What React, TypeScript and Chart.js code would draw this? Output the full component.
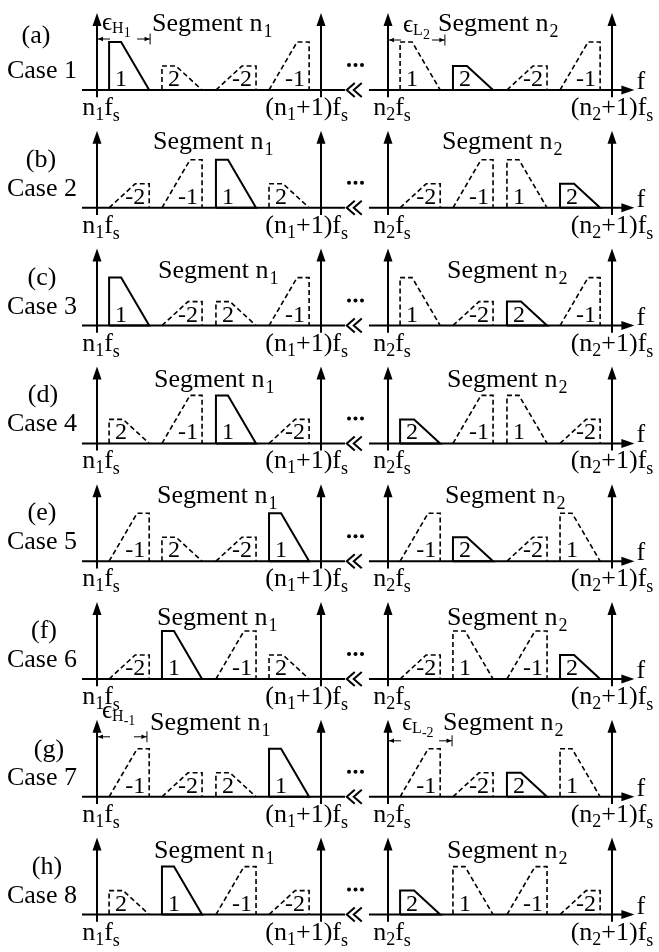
import React, { useEffect, useRef } from "react";
import { Chart, registerables } from "chart.js";

Chart.register(...registerables);

// ---------------- data ----------------
const CASE_LETTERS = ["(a)", "(b)", "(c)", "(d)", "(e)", "(f)", "(g)", "(h)"];
const CASE_NAMES = ["Case 1", "Case 2", "Case 3", "Case 4", "Case 5", "Case 6", "Case 7", "Case 8"];
const SEGMENT_SUBS = ["1", "2"];
// Order of the band replicas inside each segment (same order in both segments)
const BAND_ORDER = [
  ["1", "2", "-2", "-1"],
  ["-2", "-1", "1", "2"],
  ["1", "-2", "2", "-1"],
  ["2", "-1", "1", "-2"],
  ["-1", "2", "-2", "1"],
  ["-2", "1", "-1", "2"],
  ["-1", "-2", "2", "1"],
  ["2", "1", "-1", "-2"],
];
// band that is the wanted (solid) signal in segment n1 and n2
const SIGNAL_BAND = ["1", "2"];
// band slot start, as fraction of fs inside segment
const SLOT_START = [0.054, 0.29, 0.531, 0.768];
const BAND_WIDTH = 0.179;
const AMP_BY_INDEX: Record<string, number> = { "1": 1, "2": 0.5 };
// epsilon annotations
const EPS_ROWS = [0, 0, 6, 6];
const EPS_PANELS = [0, 1, 0, 1];
const EPS_NAMES = ["H", "L", "H", "L"];
const EPS_SUBS = ["1", "2", "-1", "-2"];
const EPS_EDGE = [0.237, 0.254, 0.223, 0.286];

// ---------------- layout (not data) ----------------
const W = 659;
const H = 952;
const FONT = '"Liberation Serif", "Times New Roman", "DejaVu Serif", serif';
const PANEL_X0 = [97, 388];
const PANEL_W = 224;
const ROW_Y0 = 90;
const ROW_DY = 117.8;
const UNIT_H = 48;
const ARROW_UP = 77;
const LETTER_X = [36, 41, 42, 43, 42, 44, 49, 47];
const LETTER_UP = [47, 41, 41, 41, 41, 41, 40, 41];
const CASE_UP = 12;
const AXIS_LABEL_DOWN = 25;
const SEG_X = [
  [152, 153, 158, 154, 157, 157, 150, 154],
  [438, 442, 447, 447, 445, 447, 443, 447],
];
const SEG_UP = [59, 59, 48, 56, 58, 54, 67, 57];
const EPS_TEXT_DX = [5, 15, 5, 14];
const EPS_TEXT_UP = [60, 58, 79, 67];
const EPS_ARROW_UP = [51, 50, 60, 56];

type Run = { t: string; size: number; dy?: number; dx?: number };

function drawRuns(ctx: CanvasRenderingContext2D, runs: Run[], x: number, y: number, align: "left" | "center" | "right") {
  const widths = runs.map((r) => {
    ctx.font = `${r.size}px ${FONT}`;
    return ctx.measureText(r.t).width + (r.dx || 0);
  });
  const total = widths.reduce((a, b) => a + b, 0);
  let cx = align === "left" ? x : align === "center" ? x - total / 2 : x - total;
  ctx.textAlign = "left";
  ctx.textBaseline = "alphabetic";
  runs.forEach((r, i) => {
    ctx.font = `${r.size}px ${FONT}`;
    ctx.fillText(r.t, cx + (r.dx || 0), y + (r.dy || 0));
    cx += widths[i];
  });
}

export default function App() {
  const ref = useRef<HTMLCanvasElement>(null);

  useEffect(() => {
    const canvas = ref.current;
    if (!canvas) return;
    const px = (p: number, f: number) => PANEL_X0[p] + f * PANEL_W;
    const py = (r: number, a: number) => ROW_Y0 + r * ROW_DY - a * UNIT_H;
    const datasets: any[] = [];
    const line = (pts: { x: number; y: number }[], width: number, dash: number[] = []) =>
      datasets.push({
        data: pts,
        showLine: true,
        borderColor: "#000",
        backgroundColor: "#000",
        borderWidth: width,
        borderDash: dash,
        pointRadius: 0,
        pointHoverRadius: 0,
        fill: false,
        tension: 0,
        borderJoinStyle: "miter",
        borderCapStyle: "butt",
        clip: false,
      });

    const up = ARROW_UP / UNIT_H;
    for (let r = 0; r < BAND_ORDER.length; r++) {
      // frequency axes
      line([{ x: px(0, -0.067), y: py(r, 0) }, { x: px(0, 1.107), y: py(r, 0) }], 2);
      line([{ x: px(1, -0.085), y: py(r, 0) }, { x: px(1, 1.045), y: py(r, 0) }], 2);
      for (let p = 0; p < 2; p++) {
        for (const edge of [0, 1]) {
          line([{ x: px(p, edge), y: py(r, -0.15) }, { x: px(p, edge), y: py(r, up - 0.15) }], 2);
        }
        BAND_ORDER[r].forEach((lab, i) => {
          const neg = lab.startsWith("-");
          const idx = lab.replace("-", "");
          const A = AMP_BY_INDEX[idx];
          const tf = A >= 1 ? 0.3 : 0.35;
          const s = SLOT_START[i];
          const w = BAND_WIDTH;
          const solid = lab === SIGNAL_BAND[p];
          let pts: number[][];
          if (!neg) pts = [[s, 0], [s, A], [s + tf * w, A], [s + w, 0]];
          else pts = [[s, 0], [s + (1 - tf) * w, A], [s + w, A], [s + w, 0]];
          if (solid) pts.push([s, 0]);
          line(pts.map(([f, a]) => ({ x: px(p, f), y: py(r, a) })), solid ? 2 : 1.6, solid ? [] : [5, 3]);
        });
      }
    }

    const annot = {
      id: "annot",
      afterDatasetsDraw(chart: any) {
        const ctx: CanvasRenderingContext2D = chart.ctx;
        const xs = chart.scales.x;
        const ys = chart.scales.y;
        const X = (v: number) => xs.getPixelForValue(v);
        const Y = (v: number) => ys.getPixelForValue(v);
        ctx.save();
        ctx.fillStyle = "#000";
        ctx.strokeStyle = "#000";
        const tri = (pts: number[][]) => {
          ctx.beginPath();
          ctx.moveTo(X(pts[0][0]), Y(pts[0][1]));
          for (let k = 1; k < pts.length; k++) ctx.lineTo(X(pts[k][0]), Y(pts[k][1]));
          ctx.closePath();
          ctx.fill();
        };
        for (let r = 0; r < BAND_ORDER.length; r++) {
          const base = py(r, 0);
          // arrowheads on vertical axes
          for (let p = 0; p < 2; p++) {
            for (const edge of [0, 1]) {
              const x0 = px(p, edge);
              tri([[x0, base - ARROW_UP], [x0 - 4.5, base - ARROW_UP + 13], [x0 + 4.5, base - ARROW_UP + 13]]);
            }
          }
          // horizontal arrowhead
          const xe = px(1, 1.1);
          tri([[xe, base], [xe - 13, base - 4.5], [xe - 13, base + 4.5]]);
          // f label
          drawRuns(ctx, [{ t: "f", size: 26 }], X(xe + 2), Y(base - 1), "left");
          // break symbol
          ctx.lineWidth = 2;
          ctx.lineJoin = "miter";
          for (let k = 0; k < 2; k++) {
            const bx = px(0, 1.115) + k * 7;
            ctx.beginPath();
            ctx.moveTo(X(bx + 8), Y(base - 7));
            ctx.lineTo(X(bx), Y(base));
            ctx.lineTo(X(bx + 8), Y(base + 7));
            ctx.stroke();
          }
          // ellipsis
          for (let k = 0; k < 3; k++) {
            ctx.beginPath();
            ctx.arc(X(349 + k * 6.5), Y(base - 25), 2, 0, Math.PI * 2);
            ctx.fill();
          }
          // case labels
          drawRuns(ctx, [{ t: CASE_LETTERS[r], size: 26 }], X(LETTER_X[r]), Y(base - LETTER_UP[r]), "center");
          drawRuns(ctx, [{ t: CASE_NAMES[r], size: 26 }], X(77), Y(base - CASE_UP), "right");
          for (let p = 0; p < 2; p++) {
            const sub = SEGMENT_SUBS[p];
            drawRuns(
              ctx,
              [{ t: "Segment n", size: 26 }, { t: sub, size: 18, dy: 6, dx: 1 }],
              X(SEG_X[p][r]),
              Y(base - SEG_UP[r]),
              "left"
            );
            // axis tick labels
            const lo: Run[] = [
              { t: "n", size: 26 },
              { t: sub, size: 18, dy: 5 },
              { t: "f", size: 26 },
              { t: "s", size: 18, dy: 6 },
            ];
            drawRuns(ctx, lo, X(px(p, 0) + 4), Y(base + AXIS_LABEL_DOWN), "center");
            const hi: Run[] = [
              { t: "(n", size: 26 },
              { t: sub, size: 18, dy: 5 },
              { t: "+1)f", size: 26 },
              { t: "s", size: 18, dy: 6 },
            ];
            if (p === 0) drawRuns(ctx, hi, X(px(0, 1) + 27), Y(base + AXIS_LABEL_DOWN), "right");
            else drawRuns(ctx, hi, X(px(1, 1)), Y(base + AXIS_LABEL_DOWN), "center");
            // band labels
            BAND_ORDER[r].forEach((lab, i) => {
              const neg = lab.startsWith("-");
              const s = SLOT_START[i];
              const cx = px(p, s + (neg ? 0.65 : 0.3) * BAND_WIDTH);
              drawRuns(ctx, [{ t: lab, size: 24 }], X(cx), Y(base - 4), "center");
            });
          }
        }
        // epsilon annotations
        EPS_ROWS.forEach((r, k) => {
          const p = EPS_PANELS[k];
          const base = py(r, 0);
          const x0 = px(p, 0);
          const xt = px(p, EPS_EDGE[k]);
          const ay = base - EPS_ARROW_UP[k];
          drawRuns(
            ctx,
            [
              { t: "\u03F5", size: 25 },
              { t: EPS_NAMES[k], size: 16, dy: 3 },
              { t: EPS_SUBS[k], size: 14, dy: 7 },
            ],
            X(x0 + EPS_TEXT_DX[k]),
            Y(base - EPS_TEXT_UP[k]),
            "left"
          );
          ctx.lineWidth = 1;
          ctx.beginPath();
          ctx.moveTo(X(x0 + 1), Y(ay));
          ctx.lineTo(X(x0 + 13), Y(ay));
          ctx.moveTo(X(xt - 13), Y(ay));
          ctx.lineTo(X(xt), Y(ay));
          ctx.moveTo(X(xt), Y(ay - 5.5));
          ctx.lineTo(X(xt), Y(ay + 5.5));
          ctx.stroke();
          tri([[x0 + 1, ay], [x0 + 6, ay - 2.3], [x0 + 6, ay + 2.3]]);
          tri([[xt - 0.5, ay], [xt - 5.5, ay - 2.3], [xt - 5.5, ay + 2.3]]);
        });
        ctx.restore();
      },
    };

    const chart = new Chart(canvas, {
      type: "scatter",
      data: { datasets },
      options: {
        responsive: false,
        maintainAspectRatio: false,
        animation: false,
        events: [],
        layout: { padding: 0 },
        plugins: { legend: { display: false }, tooltip: { enabled: false } },
        scales: {
          x: { type: "linear", min: 0, max: W, display: false },
          y: { type: "linear", min: 0, max: H, reverse: true, display: false },
        },
      },
      plugins: [annot],
    } as any);
    return () => chart.destroy();
  }, []);

  return (
    <div style={{ position: "fixed", left: 0, top: 0, width: W, height: H, background: "#fff" }}>
      <canvas ref={ref} width={W} height={H} style={{ width: W, height: H, display: "block" }} />
    </div>
  );
}
